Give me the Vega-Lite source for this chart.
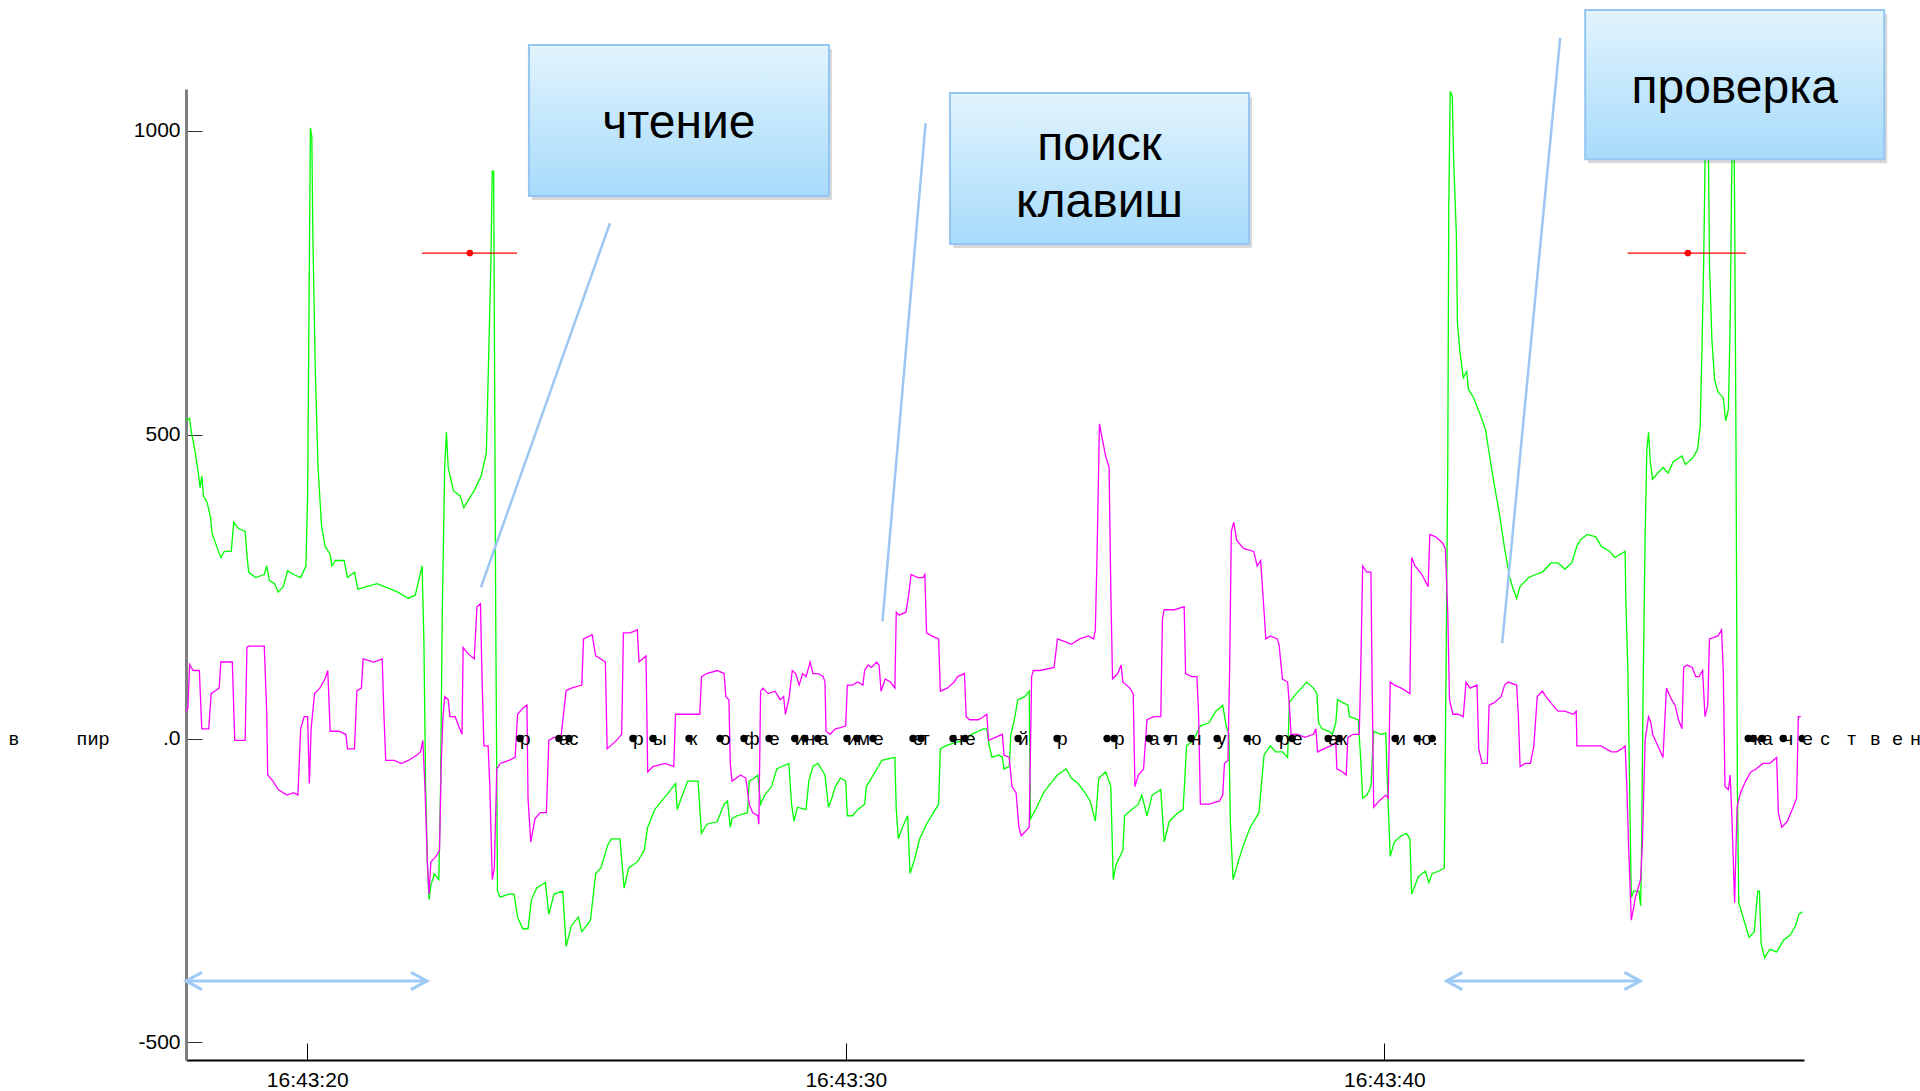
{
"$schema": "https://vega.github.io/schema/vega-lite/v6.json",
"width": 1618, "height": 971,
"autosize": {"type": "none"},
"padding": {"left": 186, "top": 89, "right": 116, "bottom": 31},
"background": "white",
"config": {"font": "Liberation Sans, Arial, sans-serif", "view": {"stroke": null}, "axis": {"grid": false}},
"datasets": {
"green": [
{"t":17.753,"v":523},{"t":17.817,"v":527},{"t":17.85,"v":504},{"t":17.914,"v":475},{"t":17.979,"v":437},{"t":18.011,"v":413},{"t":18.043,"v":432},{"t":18.075,"v":399},{"t":18.14,"v":389},{"t":18.204,"v":365},{"t":18.236,"v":337},{"t":18.333,"v":313},{"t":18.397,"v":298},{"t":18.462,"v":308},{"t":18.591,"v":308},{"t":18.636,"v":356},{"t":18.719,"v":346},{"t":18.848,"v":341},{"t":18.881,"v":303},{"t":18.913,"v":274},{"t":19.042,"v":265},{"t":19.203,"v":270},{"t":19.248,"v":284},{"t":19.299,"v":260},{"t":19.396,"v":255},{"t":19.461,"v":241},{"t":19.557,"v":250},{"t":19.635,"v":276},{"t":19.75,"v":270},{"t":19.879,"v":265},{"t":19.976,"v":284},{"t":20.008,"v":399},{"t":20.04,"v":781},{"t":20.06,"v":1005},{"t":20.086,"v":991},{"t":20.105,"v":829},{"t":20.15,"v":609},{"t":20.201,"v":446},{"t":20.266,"v":351},{"t":20.33,"v":317},{"t":20.427,"v":303},{"t":20.459,"v":284},{"t":20.524,"v":293},{"t":20.685,"v":293},{"t":20.749,"v":265},{"t":20.878,"v":274},{"t":20.942,"v":246},{"t":21.104,"v":250},{"t":21.297,"v":255},{"t":21.49,"v":248},{"t":21.683,"v":241},{"t":21.877,"v":231},{"t":22.006,"v":236},{"t":22.07,"v":260},{"t":22.134,"v":284},{"t":22.167,"v":160},{"t":22.199,"v":-79},{"t":22.231,"v":-203},{"t":22.263,"v":-265},{"t":22.296,"v":-242},{"t":22.36,"v":-223},{"t":22.444,"v":-232},{"t":22.476,"v":-79},{"t":22.508,"v":208},{"t":22.553,"v":446},{"t":22.585,"v":504},{"t":22.618,"v":446},{"t":22.714,"v":408},{"t":22.843,"v":399},{"t":22.908,"v":380},{"t":23.004,"v":394},{"t":23.101,"v":408},{"t":23.23,"v":432},{"t":23.326,"v":470},{"t":23.359,"v":590},{"t":23.41,"v":781},{"t":23.436,"v":934},{"t":23.462,"v":934},{"t":23.475,"v":685},{"t":23.5,"v":208},{"t":23.533,"v":-251},{"t":23.584,"v":-261},{"t":23.745,"v":-256},{"t":23.842,"v":-256},{"t":23.906,"v":-294},{"t":24.003,"v":-313},{"t":24.1,"v":-313},{"t":24.164,"v":-265},{"t":24.261,"v":-246},{"t":24.422,"v":-237},{"t":24.486,"v":-289},{"t":24.583,"v":-256},{"t":24.744,"v":-251},{"t":24.808,"v":-342},{"t":24.905,"v":-308},{"t":25.034,"v":-294},{"t":25.098,"v":-318},{"t":25.259,"v":-299},{"t":25.356,"v":-222},{"t":25.453,"v":-213},{"t":25.581,"v":-175},{"t":25.646,"v":-165},{"t":25.807,"v":-165},{"t":25.884,"v":-246},{"t":25.968,"v":-213},{"t":26.129,"v":-203},{"t":26.258,"v":-184},{"t":26.322,"v":-146},{"t":26.451,"v":-117},{"t":26.58,"v":-103},{"t":26.709,"v":-89},{"t":26.838,"v":-74},{"t":26.87,"v":-117},{"t":26.967,"v":-93},{"t":27.064,"v":-70},{"t":27.257,"v":-70},{"t":27.321,"v":-156},{"t":27.418,"v":-141},{"t":27.611,"v":-137},{"t":27.74,"v":-108},{"t":27.804,"v":-103},
{"t":27.855,"v":-146},{"t":27.887,"v":-132},{"t":27.983,"v":-127},{"t":28.175,"v":-122},{"t":28.207,"v":-70},{"t":28.303,"v":-65},{"t":28.367,"v":-60},{"t":28.418,"v":-108},{"t":28.494,"v":-93},{"t":28.622,"v":-79},{"t":28.718,"v":-50},{"t":28.814,"v":-46},{"t":28.942,"v":-41},{"t":28.993,"v":-108},{"t":29.038,"v":-136},{"t":29.102,"v":-113},{"t":29.262,"v":-117},{"t":29.313,"v":-70},{"t":29.39,"v":-46},{"t":29.485,"v":-41},{"t":29.613,"v":-60},{"t":29.677,"v":-113},{"t":29.741,"v":-98},{"t":29.805,"v":-79},{"t":29.901,"v":-65},{"t":29.997,"v":-70},{"t":30.029,"v":-127},{"t":30.125,"v":-127},{"t":30.221,"v":-117},{"t":30.349,"v":-108},{"t":30.381,"v":-79},{"t":30.476,"v":-65},{"t":30.604,"v":-46},{"t":30.668,"v":-36},{"t":30.911,"v":-31},{"t":30.937,"v":-117},{"t":30.975,"v":-165},{"t":31.052,"v":-146},{"t":31.148,"v":-127},{"t":31.193,"v":-222},{"t":31.276,"v":-199},{"t":31.372,"v":-165},{"t":31.499,"v":-141},{"t":31.627,"v":-122},{"t":31.723,"v":-108},{"t":31.755,"v":-17},{"t":31.851,"v":-12},{"t":32.011,"v":-7},{"t":32.203,"v":-3},{"t":32.331,"v":7},{"t":32.459,"v":12},{"t":32.555,"v":16},{"t":32.618,"v":16},{"t":32.663,"v":-12},{"t":32.714,"v":-31},{"t":32.842,"v":-27},{"t":32.906,"v":-31},{"t":32.938,"v":-50},{"t":33.034,"v":-46},{"t":33.066,"v":7},{"t":33.13,"v":31},{"t":33.194,"v":64},{"t":33.322,"v":69},{"t":33.405,"v":78},{"t":33.418,"v":-50},{"t":33.431,"v":-132},{"t":33.546,"v":-113},{"t":33.673,"v":-89},{"t":33.801,"v":-74},{"t":33.929,"v":-60},{"t":34.089,"v":-50},{"t":34.185,"v":-65},{"t":34.313,"v":-74},{"t":34.441,"v":-89},{"t":34.537,"v":-103},{"t":34.633,"v":-136},{"t":34.697,"v":-65},{"t":34.824,"v":-55},{"t":34.92,"v":-79},{"t":34.965,"v":-232},{"t":35.016,"v":-208},{"t":35.144,"v":-184},{"t":35.176,"v":-127},{"t":35.304,"v":-117},{"t":35.432,"v":-108},{"t":35.496,"v":-93},{"t":35.592,"v":-127},{"t":35.688,"v":-93},{"t":35.848,"v":-84},{"t":35.911,"v":-170},{"t":36.007,"v":-136},{"t":36.167,"v":-122},{"t":36.263,"v":-117},{"t":36.327,"v":-12},{"t":36.455,"v":-3},{"t":36.583,"v":21},{"t":36.743,"v":26},{"t":36.87,"v":45},{"t":36.998,"v":55},{"t":37.062,"v":21},{"t":37.113,"v":7},{"t":37.139,"v":-136},{"t":37.19,"v":-232},{"t":37.286,"v":-203},{"t":37.382,"v":-175},{"t":37.51,"v":-146},{"t":37.67,"v":-122},{"t":37.766,"v":-27},
{"t":37.883,"v":-12},{"t":37.979,"v":-22},{"t":38.107,"v":-22},{"t":38.203,"v":-31},{"t":38.235,"v":59},{"t":38.363,"v":74},{"t":38.458,"v":83},{"t":38.554,"v":93},{"t":38.682,"v":83},{"t":38.746,"v":74},{"t":38.778,"v":26},{"t":38.842,"v":16},{"t":38.97,"v":12},{"t":39.034,"v":7},{"t":39.098,"v":26},{"t":39.13,"v":64},{"t":39.226,"v":59},{"t":39.322,"v":55},{"t":39.354,"v":36},{"t":39.513,"v":31},{"t":39.558,"v":-31},{"t":39.596,"v":-98},{"t":39.673,"v":-93},{"t":39.75,"v":-79},{"t":39.801,"v":12},{"t":39.929,"v":7},{"t":40.025,"v":9},{"t":40.057,"v":-79},{"t":40.108,"v":-194},{"t":40.185,"v":-170},{"t":40.313,"v":-160},{"t":40.409,"v":-156},{"t":40.473,"v":-165},{"t":40.505,"v":-256},{"t":40.568,"v":-242},{"t":40.632,"v":-227},{"t":40.76,"v":-218},{"t":40.824,"v":-237},{"t":40.888,"v":-222},{"t":41.016,"v":-218},{"t":41.112,"v":-213},{"t":41.144,"v":112},{"t":41.176,"v":446},{"t":41.195,"v":876},{"t":41.221,"v":1065},{"t":41.259,"v":1058},{"t":41.285,"v":953},{"t":41.336,"v":829},{"t":41.355,"v":685},{"t":41.4,"v":638},{"t":41.464,"v":594},{"t":41.527,"v":604},{"t":41.559,"v":575},{"t":41.655,"v":561},{"t":41.783,"v":532},{"t":41.879,"v":508},{"t":41.943,"v":470},{"t":42.039,"v":418},{"t":42.135,"v":370},{"t":42.231,"v":313},{"t":42.327,"v":265},{"t":42.391,"v":246},{"t":42.455,"v":231},{"t":42.519,"v":250},{"t":42.678,"v":265},{"t":42.806,"v":270},{"t":42.934,"v":274},{"t":43.094,"v":289},{"t":43.222,"v":289},{"t":43.35,"v":279},{"t":43.478,"v":289},{"t":43.574,"v":317},{"t":43.637,"v":327},{"t":43.765,"v":336},{"t":43.925,"v":332},{"t":44.021,"v":317},{"t":44.181,"v":308},{"t":44.277,"v":298},{"t":44.469,"v":308},{"t":44.482,"v":227},{"t":44.52,"v":112},{"t":44.552,"v":-79},{"t":44.584,"v":-261},{"t":44.628,"v":-251},{"t":44.725,"v":-251},{"t":44.757,"v":-275},{"t":44.776,"v":-175},{"t":44.801,"v":64},{"t":44.84,"v":332},{"t":44.872,"v":475},{"t":44.904,"v":504},{"t":44.936,"v":456},{"t":44.98,"v":427},{"t":45.076,"v":437},{"t":45.172,"v":446},{"t":45.268,"v":437},{"t":45.364,"v":456},{"t":45.524,"v":465},{"t":45.588,"v":451},{"t":45.716,"v":461},{"t":45.812,"v":475},{"t":45.862,"v":513},{"t":45.895,"v":638},{"t":45.927,"v":781},{"t":45.952,"v":943},{"t":45.971,"v":1040},{"t":45.99,"v":1040},{"t":46.016,"v":972},{"t":46.035,"v":781},{"t":46.08,"v":657},{"t":46.131,"v":590},{"t":46.195,"v":570},{"t":46.291,"v":561},{"t":46.336,"v":523},{"t":46.387,"v":542},{"t":46.419,"v":685},{"t":46.451,"v":953},{"t":46.47,"v":1020},{"t":46.489,"v":1020},{"t":46.502,"v":876},{"t":46.527,"v":494},{"t":46.553,"v":-79},{"t":46.579,"v":-270},{"t":46.675,"v":-299},{"t":46.771,"v":-327},{"t":46.867,"v":-318},{"t":46.93,"v":-251},{"t":46.962,"v":-251},{"t":46.994,"v":-337},{"t":47.058,"v":-361},{"t":47.154,"v":-347},{"t":47.282,"v":-351},{"t":47.41,"v":-332},{"t":47.538,"v":-323},{"t":47.634,"v":-308},{"t":47.697,"v":-289},{"t":47.761,"v":-285}
],
"magenta": [
{"t":17.753,"v":45},{"t":17.785,"v":50},{"t":17.817,"v":122},{"t":17.882,"v":112},{"t":17.998,"v":112},{"t":18.043,"v":16},{"t":18.172,"v":16},{"t":18.217,"v":74},{"t":18.301,"v":79},{"t":18.365,"v":83},{"t":18.397,"v":126},{"t":18.61,"v":126},{"t":18.655,"v":-3},{"t":18.848,"v":-3},{"t":18.881,"v":150},{"t":18.913,"v":152},{"t":19.203,"v":152},{"t":19.248,"v":45},{"t":19.267,"v":-60},{"t":19.364,"v":-70},{"t":19.461,"v":-84},{"t":19.622,"v":-93},{"t":19.75,"v":-89},{"t":19.828,"v":-93},{"t":19.879,"v":16},{"t":19.944,"v":36},{"t":20.008,"v":36},{"t":20.04,"v":-74},{"t":20.073,"v":16},{"t":20.137,"v":74},{"t":20.234,"v":83},{"t":20.33,"v":98},{"t":20.382,"v":112},{"t":20.427,"v":12},{"t":20.588,"v":12},{"t":20.717,"v":7},{"t":20.749,"v":-17},{"t":20.878,"v":-17},{"t":20.923,"v":79},{"t":21.007,"v":83},{"t":21.039,"v":131},{"t":21.232,"v":126},{"t":21.393,"v":131},{"t":21.426,"v":36},{"t":21.458,"v":-36},{"t":21.619,"v":-36},{"t":21.748,"v":-41},{"t":21.877,"v":-36},{"t":22.038,"v":-27},{"t":22.102,"v":-22},{"t":22.147,"v":-3},{"t":22.186,"v":-79},{"t":22.231,"v":-203},{"t":22.263,"v":-256},{"t":22.296,"v":-203},{"t":22.392,"v":-194},{"t":22.457,"v":-184},{"t":22.489,"v":-41},{"t":22.521,"v":36},{"t":22.553,"v":69},{"t":22.618,"v":64},{"t":22.65,"v":36},{"t":22.747,"v":36},{"t":22.811,"v":21},{"t":22.875,"v":7},{"t":22.895,"v":150},{"t":22.972,"v":141},{"t":23.101,"v":131},{"t":23.152,"v":217},{"t":23.217,"v":222},{"t":23.243,"v":112},{"t":23.281,"v":-12},{"t":23.359,"v":-12},{"t":23.391,"v":-79},{"t":23.436,"v":-232},{"t":23.475,"v":-213},{"t":23.52,"v":-50},{"t":23.584,"v":-41},{"t":23.745,"v":-36},{"t":23.861,"v":-31},{"t":23.906,"v":40},{"t":24.003,"v":50},{"t":24.08,"v":55},{"t":24.1,"v":-98},{"t":24.151,"v":-170},{"t":24.229,"v":-132},{"t":24.325,"v":-122},{"t":24.441,"v":-122},{"t":24.486,"v":-3},{"t":24.583,"v":2},{"t":24.712,"v":2},{"t":24.808,"v":79},{"t":24.905,"v":83},{"t":25.098,"v":88},{"t":25.131,"v":164},{"t":25.291,"v":171},{"t":25.356,"v":136},{"t":25.453,"v":131},{"t":25.536,"v":126},{"t":25.569,"v":-17},{"t":25.743,"v":-3},{"t":25.839,"v":7},{"t":25.871,"v":174},{"t":26.0,"v":174},{"t":26.129,"v":179},{"t":26.161,"v":126},{"t":26.29,"v":136},{"t":26.322,"v":-55},{"t":26.419,"v":-46},{"t":26.645,"v":-41},{"t":26.806,"v":-46},{"t":26.838,"v":40},{"t":27.289,"v":40},{"t":27.321,"v":102},{"t":27.418,"v":107},{"t":27.611,"v":112},{"t":27.74,"v":107},{"t":27.772,"v":69},{"t":27.83,"v":64},
{"t":27.855,"v":-41},{"t":27.887,"v":-70},{"t":28.047,"v":-60},{"t":28.143,"v":-65},{"t":28.207,"v":-108},{"t":28.271,"v":-122},{"t":28.367,"v":-127},{"t":28.386,"v":-141},{"t":28.418,"v":78},{"t":28.462,"v":83},{"t":28.558,"v":74},{"t":28.686,"v":78},{"t":28.782,"v":64},{"t":28.846,"v":69},{"t":28.878,"v":40},{"t":28.942,"v":64},{"t":29.006,"v":112},{"t":29.07,"v":107},{"t":29.134,"v":88},{"t":29.198,"v":107},{"t":29.262,"v":102},{"t":29.338,"v":126},{"t":29.39,"v":107},{"t":29.485,"v":107},{"t":29.581,"v":102},{"t":29.613,"v":93},{"t":29.633,"v":12},{"t":29.709,"v":7},{"t":29.805,"v":16},{"t":29.901,"v":18},{"t":29.997,"v":21},{"t":30.029,"v":88},{"t":30.125,"v":88},{"t":30.221,"v":93},{"t":30.317,"v":88},{"t":30.349,"v":112},{"t":30.413,"v":121},{"t":30.476,"v":117},{"t":30.572,"v":126},{"t":30.617,"v":121},{"t":30.655,"v":78},{"t":30.732,"v":98},{"t":30.828,"v":93},{"t":30.911,"v":83},{"t":30.937,"v":208},{"t":30.988,"v":203},{"t":31.116,"v":208},{"t":31.167,"v":236},{"t":31.212,"v":270},{"t":31.34,"v":265},{"t":31.436,"v":265},{"t":31.468,"v":270},{"t":31.499,"v":174},{"t":31.595,"v":169},{"t":31.723,"v":164},{"t":31.755,"v":78},{"t":31.883,"v":83},{"t":32.011,"v":93},{"t":32.075,"v":102},{"t":32.203,"v":107},{"t":32.235,"v":36},{"t":32.299,"v":31},{"t":32.459,"v":31},{"t":32.555,"v":36},{"t":32.618,"v":40},{"t":32.65,"v":-3},{"t":32.778,"v":2},{"t":32.906,"v":7},{"t":32.938,"v":-27},{"t":33.034,"v":-31},{"t":33.085,"v":-79},{"t":33.162,"v":-89},{"t":33.213,"v":-146},{"t":33.258,"v":-160},{"t":33.354,"v":-151},{"t":33.405,"v":-146},{"t":33.45,"v":102},{"t":33.482,"v":112},{"t":33.61,"v":112},{"t":33.866,"v":117},{"t":33.929,"v":164},{"t":34.057,"v":160},{"t":34.185,"v":155},{"t":34.345,"v":164},{"t":34.505,"v":169},{"t":34.601,"v":164},{"t":34.633,"v":179},{"t":34.665,"v":303},{"t":34.709,"v":518},{"t":34.76,"v":494},{"t":34.824,"v":465},{"t":34.888,"v":446},{"t":34.92,"v":246},{"t":34.952,"v":98},{"t":35.048,"v":107},{"t":35.112,"v":121},{"t":35.144,"v":93},{"t":35.272,"v":83},{"t":35.336,"v":74},{"t":35.368,"v":-79},{"t":35.432,"v":-60},{"t":35.528,"v":-50},{"t":35.592,"v":31},{"t":35.72,"v":36},{"t":35.848,"v":36},{"t":35.879,"v":198},{"t":35.911,"v":212},{"t":36.103,"v":212},{"t":36.282,"v":217},{"t":36.308,"v":107},{"t":36.423,"v":102},{"t":36.519,"v":102},{"t":36.551,"v":36},{"t":36.583,"v":-108},{"t":36.743,"v":-108},{"t":36.935,"v":-103},{"t":36.998,"v":-93},{"t":37.03,"v":-41},{"t":37.094,"v":-36},{"t":37.126,"v":112},{"t":37.158,"v":341},{"t":37.203,"v":356},{"t":37.254,"v":327},{"t":37.382,"v":313},{"t":37.574,"v":308},{"t":37.638,"v":284},{"t":37.702,"v":293},{"t":37.766,"v":208},{"t":37.798,"v":164},
{"t":37.883,"v":169},{"t":38.011,"v":164},{"t":38.043,"v":155},{"t":38.107,"v":98},{"t":38.203,"v":93},{"t":38.235,"v":55},{"t":38.267,"v":7},{"t":38.394,"v":7},{"t":38.522,"v":2},{"t":38.682,"v":7},{"t":38.727,"v":16},{"t":38.759,"v":-22},{"t":38.874,"v":-17},{"t":39.002,"v":-12},{"t":39.098,"v":-7},{"t":39.117,"v":-50},{"t":39.226,"v":-55},{"t":39.29,"v":-60},{"t":39.322,"v":2},{"t":39.418,"v":7},{"t":39.533,"v":7},{"t":39.558,"v":102},{"t":39.596,"v":284},{"t":39.673,"v":274},{"t":39.75,"v":274},{"t":39.769,"v":112},{"t":39.801,"v":-113},{"t":39.897,"v":-103},{"t":40.025,"v":-93},{"t":40.07,"v":-98},{"t":40.108,"v":93},{"t":40.185,"v":88},{"t":40.313,"v":83},{"t":40.473,"v":74},{"t":40.505,"v":298},{"t":40.568,"v":284},{"t":40.696,"v":270},{"t":40.811,"v":250},{"t":40.843,"v":336},{"t":40.952,"v":332},{"t":41.08,"v":322},{"t":41.131,"v":313},{"t":41.176,"v":208},{"t":41.208,"v":64},{"t":41.272,"v":40},{"t":41.368,"v":40},{"t":41.464,"v":36},{"t":41.515,"v":93},{"t":41.591,"v":83},{"t":41.719,"v":88},{"t":41.751,"v":-17},{"t":41.815,"v":-41},{"t":41.911,"v":-41},{"t":41.943,"v":55},{"t":42.039,"v":59},{"t":42.167,"v":69},{"t":42.231,"v":88},{"t":42.295,"v":93},{"t":42.455,"v":88},{"t":42.487,"v":36},{"t":42.519,"v":-46},{"t":42.614,"v":-41},{"t":42.71,"v":-41},{"t":42.774,"v":-12},{"t":42.838,"v":69},{"t":42.934,"v":78},{"t":42.998,"v":69},{"t":43.126,"v":55},{"t":43.222,"v":45},{"t":43.35,"v":45},{"t":43.51,"v":40},{"t":43.561,"v":45},{"t":43.574,"v":-12},{"t":43.829,"v":-12},{"t":44.021,"v":-12},{"t":44.213,"v":-22},{"t":44.309,"v":-22},{"t":44.405,"v":-17},{"t":44.469,"v":-12},{"t":44.501,"v":-79},{"t":44.533,"v":-175},{"t":44.584,"v":-299},{"t":44.661,"v":-261},{"t":44.757,"v":-232},{"t":44.789,"v":-175},{"t":44.84,"v":-3},{"t":44.904,"v":36},{"t":44.948,"v":26},{"t":44.98,"v":7},{"t":45.076,"v":-12},{"t":45.172,"v":-31},{"t":45.236,"v":83},{"t":45.332,"v":64},{"t":45.396,"v":55},{"t":45.46,"v":31},{"t":45.524,"v":16},{"t":45.556,"v":117},{"t":45.62,"v":121},{"t":45.716,"v":117},{"t":45.78,"v":102},{"t":45.843,"v":102},{"t":45.907,"v":112},{"t":45.952,"v":36},{"t":46.003,"v":55},{"t":46.035,"v":164},{"t":46.195,"v":169},{"t":46.259,"v":179},{"t":46.291,"v":112},{"t":46.323,"v":-79},{"t":46.387,"v":-84},{"t":46.419,"v":-60},{"t":46.451,"v":-127},{"t":46.502,"v":-270},{"t":46.547,"v":-113},{"t":46.611,"v":-89},{"t":46.707,"v":-70},{"t":46.803,"v":-55},{"t":46.899,"v":-50},{"t":47.027,"v":-41},{"t":47.154,"v":-41},{"t":47.282,"v":-31},{"t":47.314,"v":-122},{"t":47.378,"v":-146},{"t":47.474,"v":-137},{"t":47.57,"v":-117},{"t":47.653,"v":-98},{"t":47.685,"v":36},{"t":47.73,"v":36}
],
"keys": [
{"t":14.461,"v":0,"ch":"в"},{"t":15.723,"v":0,"ch":"п"},{"t":15.928,"v":0,"ch":"и"},{"t":16.132,"v":0,"ch":"р"},
{"t":23.95,"v":0,"ch":"р"},{"t":24.674,"v":0,"ch":"а"},{"t":24.86,"v":0,"ch":"с"},{"t":26.048,"v":0,"ch":"р"},{"t":26.42,"v":0,"ch":"ы"},{"t":27.089,"v":0,"ch":"к"},{"t":27.665,"v":0,"ch":"о"},{"t":28.11,"v":0,"ch":"ф"},{"t":28.575,"v":0,"ch":"е"},{"t":29.053,"v":0,"ch":"и"},{"t":29.239,"v":0,"ch":"н"},{"t":29.48,"v":0,"ch":"а"},{"t":30.022,"v":0,"ch":"и"},{"t":30.208,"v":0,"ch":"м"},{"t":30.505,"v":0,"ch":"е"},{"t":31.248,"v":0,"ch":"е"},{"t":31.397,"v":0,"ch":"т"},{"t":31.991,"v":0,"ch":"н"},{"t":32.214,"v":0,"ch":"е"},{"t":33.198,"v":0,"ch":"й"},{"t":33.922,"v":0,"ch":"р"},{"t":34.851,"v":0,"ch":" "},{"t":34.981,"v":0,"ch":"р"},{"t":35.631,"v":0,"ch":"а"},{"t":35.965,"v":0,"ch":"л"},{"t":36.411,"v":0,"ch":"н"},{"t":36.894,"v":0,"ch":"у"},{"t":37.451,"v":0,"ch":"ю"},{"t":38.045,"v":0,"ch":"р"},{"t":38.286,"v":0,"ch":"е"},{"t":38.955,"v":0,"ch":"а"},{"t":39.159,"v":0,"ch":"к"},{"t":40.199,"v":0,"ch":"и"},{"t":40.608,"v":0,"ch":"ю"},{"t":40.887,"v":0,"ch":"."},{"t":46.754,"v":0,"ch":" "},{"t":46.847,"v":0,"ch":"к"},{"t":47.014,"v":0,"ch":"а"},{"t":47.404,"v":0,"ch":"ч"},{"t":47.757,"v":0,"ch":"е"},{"t":48.091,"v":0,"ch":"с"},{"t":48.593,"v":0,"ch":"т"},{"t":49.02,"v":0,"ch":"в"},{"t":49.429,"v":0,"ch":"е"},{"t":49.761,"v":0,"ch":"н"}
],
"err": [
{"t":23.02,"t_lo":22.13,"t_hi":23.895,"v":799},
{"t":45.634,"t_lo":44.514,"t_hi":46.715,"v":799}
],
"callouts": [
{"id":1,"t":25.621,"v":848},{"id":1,"t":23.226,"v":249},
{"id":2,"t":31.482,"v":1013},{"id":2,"t":30.681,"v":193},
{"id":3,"t":43.263,"v":1153},{"id":3,"t":42.186,"v":157}
],
"arrows": [
{"t":17.75,"t2":22.223,"v":-399},
{"t":41.151,"t2":44.752,"v":-399}
],
"boxes": [
{"t":24.117,"t2":29.688,"v":1141.6,"v2":893},
{"t":31.935,"t2":37.487,"v":1062.6,"v2":814},
{"t":43.727,"t2":49.28,"v":1199.2,"v2":953.4}
],
"boxtext": [
{"t":26.902,"v":988,"text":"чтение"},
{"t":34.711,"v":952,"text":"поиск"},
{"t":34.711,"v":859,"text":"клавиш"},
{"t":46.503,"v":1046,"text":"проверка"}
]
},
"encoding": {
"x": {"field":"t","type":"quantitative","scale":{"domain":[17.75,47.79],"nice":false,"zero":false},
 "axis":{"title":null,"values":[20,30,40],"labelExpr":"'16:43:' + datum.value","labelFontSize":21,"labelColor":"#000","tickSize":-17,"tickColor":"#000","tickWidth":1,"labelPadding":26,"domainColor":"#000","domainWidth":2,"grid":false}},
"y": {"field":"v","type":"quantitative","scale":{"domain":[-529,1069],"nice":false,"zero":false},
 "axis":{"title":null,"values":[-500,0,500,1000],"labelExpr":"datum.value == 0 ? '.0' : '' + datum.value","labelFontSize":21,"labelColor":"#000","tickSize":-16,"tickColor":"#333","tickWidth":1,"labelPadding":22,"domainColor":"#7f7f7f","domainWidth":3,"grid":false}}
},
"layer": [
{"data":{"name":"green"},"mark":{"type":"line","color":"#00ff00","strokeWidth":1.3}},
{"data":{"name":"magenta"},"mark":{"type":"line","color":"#ff00ff","strokeWidth":1.3}},
{"data":{"name":"err"},"mark":{"type":"rule","color":"#ff0000","strokeWidth":1.3},"encoding":{"x":{"field":"t_lo","type":"quantitative"},"x2":{"field":"t_hi"}}},
{"data":{"name":"err"},"mark":{"type":"point","filled":true,"color":"#ff0000","size":45,"opacity":1}},
{"data":{"name":"callouts"},"mark":{"type":"line","color":"#9cc7f3","strokeWidth":2.5},"encoding":{"detail":{"field":"id"}}},
{"data":{"name":"boxes"},"mark":{"type":"rect","fill":"#000000","opacity":0.15,"xOffset":3,"x2Offset":3,"yOffset":4,"y2Offset":4},"encoding":{"x2":{"field":"t2"},"y2":{"field":"v2"}}},
{"data":{"name":"boxes"},"mark":{"type":"rect","stroke":"#95c6f1","strokeWidth":2,"fill":{"gradient":"linear","x1":0,"y1":0,"x2":0,"y2":1,"stops":[{"offset":0,"color":"#e2f4fd"},{"offset":1,"color":"#a7dbfb"}]}},"encoding":{"x2":{"field":"t2"},"y2":{"field":"v2"}}},
{"data":{"name":"boxtext"},"mark":{"type":"text","fontSize":48,"align":"center","baseline":"alphabetic","color":"#000"},"encoding":{"text":{"field":"text"}}},
{"data":{"name":"arrows"},"mark":{"type":"rule","color":"#9ecaf5","strokeWidth":3},"encoding":{"x2":{"field":"t2"}}},
{"data":{"name":"arrows"},"mark":{"type":"point","shape":"M 1.86 -1 L 0 0 L 1.86 1","filled":false,"color":"#9ecaf5","strokeWidth":3,"size":296,"opacity":1}},
{"data":{"name":"arrows"},"mark":{"type":"point","shape":"M -1.86 -1 L 0 0 L -1.86 1","filled":false,"color":"#9ecaf5","strokeWidth":3,"size":296,"opacity":1},"encoding":{"x":{"field":"t2","type":"quantitative"}}},
{"data":{"name":"keys"},"mark":{"type":"point","filled":true,"color":"#000","size":55,"opacity":1,"clip":true}},
{"data":{"name":"keys"},"mark":{"type":"text","fontSize":19,"align":"left","baseline":"alphabetic","dy":6,"color":"#000"},"encoding":{"text":{"field":"ch"}}}
]
}
